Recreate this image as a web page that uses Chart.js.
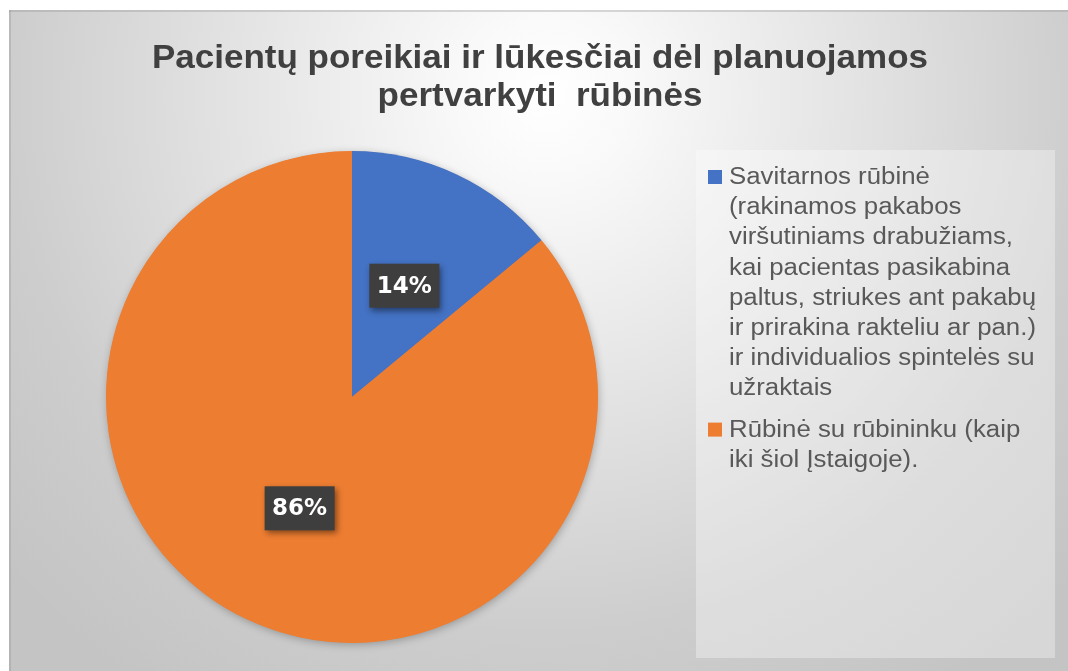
<!DOCTYPE html>
<html>
<head>
<meta charset="utf-8">
<script src="https://cdn.jsdelivr.net/npm/chart.js@4.4.1/dist/chart.umd.min.js"></script>
<style>
  html, body { margin: 0; padding: 0; background: #ffffff; }
  #wrap { position: relative; width: 1068px; height: 671px; }
  canvas { display: block; }
</style>
</head>
<body>
<div id="wrap"><canvas id="c" width="1068" height="671"></canvas></div>
<script>
// ---- data ----
const titleLines = ['Pacientų poreikiai ir lūkesčiai dėl planuojamos', 'pertvarkyti  rūbinės'];
const categories = [
  ['Savitarnos rūbinė', '(rakinamos pakabos', 'viršutiniams drabužiams,', 'kai pacientas pasikabina',
   'paltus, striukes ant pakabų', 'ir prirakina rakteliu ar pan.)', 'ir individualios spintelės su', 'užraktais'],
  ['Rūbinė su rūbininku (kaip', 'iki šiol Įstaigoje).']
];
const values = [14, 86];
const colors = ['#4472C4', '#ED7D31'];

// ---- custom drawing plugin ----
const decor = {
  id: 'decor',
  beforeDraw(chart) {
    const ctx = chart.ctx;
    const W = chart.width, H = chart.height;
    ctx.save();
    ctx.fillStyle = '#ffffff';
    ctx.fillRect(0, 0, W, H);
    const g = ctx.createRadialGradient(545, 95, 0, 545, 95, 720);
    g.addColorStop(0, '#ffffff');
    g.addColorStop(0.12, '#f9f9f9');
    g.addColorStop(0.45, '#e2e2e2');
    g.addColorStop(0.75, '#cdcdcd');
    g.addColorStop(1, '#c4c4c4');
    ctx.fillStyle = g;
    ctx.fillRect(9, 10, W - 9, H - 10);
    ctx.fillStyle = 'rgba(150,150,150,0.35)';
    ctx.fillRect(9, 10, W - 9, 2);
    ctx.fillRect(9, 10, 2, H - 10);
    // legend panel
    ctx.fillStyle = 'rgba(255,255,255,0.33)';
    ctx.fillRect(696, 150, 359, 508);
    ctx.restore();
  },
  beforeDatasetsDraw(chart) {
    const arc = chart.getDatasetMeta(0).data[0];
    if (!arc) return;
    const ctx = chart.ctx;
    ctx.save();
    ctx.shadowColor = 'rgba(0,0,0,0.28)';
    ctx.shadowBlur = 9;
    ctx.shadowOffsetX = 1;
    ctx.shadowOffsetY = 2;
    ctx.fillStyle = colors[1];
    ctx.beginPath();
    ctx.arc(arc.x, arc.y, arc.outerRadius - 0.5, 0, Math.PI * 2);
    ctx.fill();
    ctx.restore();
  },
  afterDatasetsDraw(chart) {
    const ctx = chart.ctx;
    const meta = chart.getDatasetMeta(0);
    ctx.save();
    ctx.font = 'bold 23px "DejaVu Sans"';
    ctx.textAlign = 'center';
    ctx.textBaseline = 'middle';
    meta.data.forEach((arc, i) => {
      const p = arc.tooltipPosition();
      const txt = values[i] + '%';
      const bw = 70, bh = 44;
      ctx.save();
      ctx.shadowColor = 'rgba(0,0,0,0.45)';
      ctx.shadowBlur = 6;
      ctx.shadowOffsetX = 2;
      ctx.shadowOffsetY = 3;
      ctx.fillStyle = '#3e3e3e';
      ctx.fillRect(p.x - bw / 2, p.y - bh / 2, bw, bh);
      ctx.restore();
      ctx.fillStyle = '#ffffff';
      ctx.fillText(txt, p.x, p.y + 1);
    });
    ctx.restore();
  },
  afterDraw(chart) {
    const ctx = chart.ctx;
    ctx.save();
    // title
    ctx.fillStyle = '#404040';
    ctx.font = 'bold 34px "Liberation Sans", Arial, sans-serif';
    ctx.textAlign = 'center';
    ctx.textBaseline = 'alphabetic';
    const tb = [68, 106];
    const tsx = 776 / ctx.measureText(titleLines[0]).width;
    titleLines.forEach((t, i) => {
      ctx.save();
      ctx.translate(540, tb[i]);
      ctx.scale(tsx, 1);
      ctx.fillText(t, 0, 0);
      ctx.restore();
    });
    // legend
    ctx.font = '23px "Liberation Sans", Arial, sans-serif';
    ctx.textAlign = 'left';
    const lsx = 284 / ctx.measureText(categories[0][2]).width;
    const lh = 30.2, gap = 11;
    let y = 184;
    chart.data.labels.forEach((lines, i) => {
      ctx.fillStyle = chart.data.datasets[0].backgroundColor[i];
      ctx.fillRect(708, y - 14, 14, 14);
      ctx.fillStyle = '#595959';
      lines.forEach((ln) => {
        ctx.save();
        ctx.translate(729, y);
        ctx.scale(lsx, 1);
        ctx.fillText(ln, 0, 0);
        ctx.restore();
        y += lh;
      });
      y += gap;
    });
    ctx.restore();
  }
};

new Chart(document.getElementById('c'), {
  type: 'pie',
  data: {
    labels: categories,
    datasets: [{
      data: values,
      backgroundColor: colors,
      borderWidth: 0
    }]
  },
  options: {
    responsive: false,
    animation: false,
    layout: { padding: { left: 106, right: 470, top: 151, bottom: 28 } },
    plugins: {
      legend: { display: false },
      title: { display: false },
      tooltip: { enabled: false }
    }
  },
  plugins: [decor]
});
</script>
</body>
</html>
